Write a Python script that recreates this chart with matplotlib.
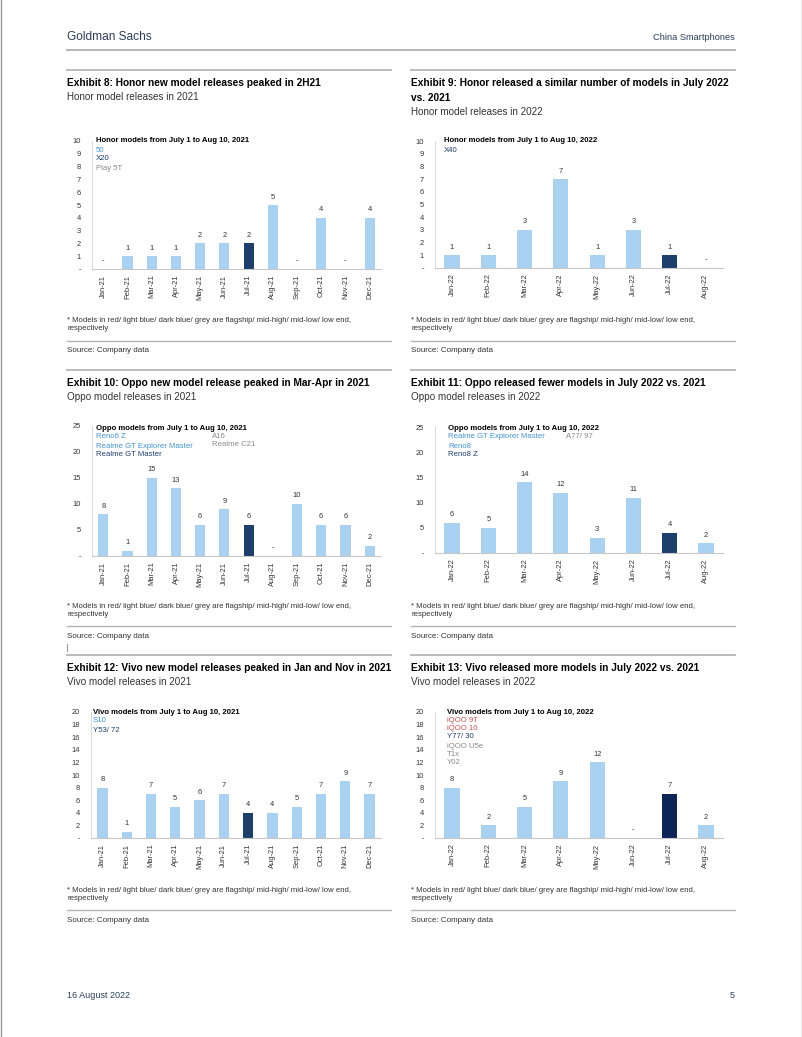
import numpy as np
import matplotlib
matplotlib.use('Agg')
import matplotlib.pyplot as plt
from matplotlib.lines import Line2D

W, H = 802, 1037
plt.rcParams['font.family'] = ['Liberation Sans', 'DejaVu Sans']

# data read from the page
months_21 = ['Jan-21', 'Feb-21', 'Mar-21', 'Apr-21', 'May-21', 'Jun-21',
             'Jul-21', 'Aug-21', 'Sep-21', 'Oct-21', 'Nov-21', 'Dec-21']
months_22 = ['Jan-22', 'Feb-22', 'Mar-22', 'Apr-22', 'May-22', 'Jun-22',
             'Jul-22', 'Aug-22']
honor_21 = [0, 1, 1, 1, 2, 2, 2, 5, 0, 4, 0, 4]
honor_22 = [1, 1, 3, 7, 1, 3, 1, 0]
oppo_21 = [8, 1, 15, 13, 6, 9, 6, 0, 10, 6, 6, 2]
oppo_22 = [6, 5, 14, 12, 3, 11, 4, 2]
vivo_21 = [8, 1, 7, 5, 6, 7, 4, 4, 5, 7, 9, 7]
vivo_22 = [8, 2, 5, 9, 12, 0, 7, 2]

LIGHT = '#a9d1f1'
DARK = '#1d3f6c'
NAVY = '#0c2658'
T_LB = '#3f93d8'
T_DB = '#1e3d72'
T_GR = '#8a8a8a'
T_RD = '#cf4f4f'
GS = '#2b3e5c'

fig = plt.figure(figsize=(W / 100, H / 100), dpi=100)


def fx(x):
    return x / W


def fy(y):
    return 1 - y / H


def hline(x0, x1, y, color='#b5b5b5', lw=1.2):
    fig.add_artist(Line2D([fx(x0), fx(x1)], [fy(y), fy(y)], color=color, lw=lw))


def vline(x, y0, y1, color='#9a9a9a', lw=0.8):
    fig.add_artist(Line2D([fx(x), fx(x)], [fy(y0), fy(y1)], color=color, lw=lw))


def text(x, y, s, **kw):
    kw.setdefault('va', 'center')
    fig.text(fx(x), fy(y), s, **kw)


# page frame, header and footer
vline(0.5, 0, H, lw=1.0)
vline(801.5, 0, H, lw=1.0)
text(67, 37, 'Goldman Sachs', fontsize=8.6, color=GS)
text(735, 38, 'China Smartphones', fontsize=6.7, color=GS, ha='right')
hline(67, 735, 50, color='#b0b0b0', lw=1.3)
text(67, 996, '16 August 2022', fontsize=6.5, color=GS)
text(735, 996, '5', fontsize=6.5, color=GS, ha='right')
vline(67, 644, 651)


def exhibit(x0, x1, ytop, titles, subtitle, foot_y):
    hline(x0, x1, ytop, color='#b5b5b5', lw=1.3)
    y = ytop + 13
    for t in titles:
        text(x0, y, t, fontsize=7.3, weight='bold', color='black')
        y += 15
    text(x0, y - 1, subtitle, fontsize=7.1, color='#333333')
    text(x0, foot_y, '* Models in red/ light blue/ dark blue/ grey are flagship/ mid-high/ mid-low/ low end,',
         fontsize=5.6, color='#333333')
    text(x0, foot_y + 8, 'respectively', fontsize=5.6, color='#333333')
    hline(x0, x1, foot_y + 20, color='#b5b5b5', lw=1.0)
    text(x0, foot_y + 30, 'Source: Company data', fontsize=5.8, color='#333333')


def chart(rect, labels, values, dark_color, ymax, ystep, lines):
    left, right, top, bottom = rect
    ax = fig.add_axes([fx(left), fy(bottom), fx(right) - fx(left), (bottom - top) / H])
    x = np.arange(len(labels))
    colors = [dark_color if lab.startswith('Jul') else LIGHT for lab in labels]
    ax.bar(x, values, width=0.42, color=colors)
    for xi, v in zip(x, values):
        ax.text(xi, v + ymax * 0.035, str(v) if v else '-', ha='center', va='bottom',
                fontsize=5.4, color='#333333')
    ax.set_xlim(-0.47, len(labels) - 0.53)
    ax.set_ylim(0, ymax)
    ticks = np.arange(0, ymax + ystep / 2, ystep)
    ax.set_yticks(ticks)
    ax.set_yticklabels(['-'] + [str(int(t)) for t in ticks[1:]])
    ax.set_xticks(x)
    ax.set_xticklabels(labels, rotation=90)
    ax.tick_params(axis='both', length=0, labelsize=5.4, labelcolor='#333333')
    ax.tick_params(axis='y', pad=8)
    ax.tick_params(axis='x', pad=4)
    for s in ['top', 'right']:
        ax.spines[s].set_visible(False)
    ax.spines['left'].set_color('#d8d8d8')
    ax.spines['bottom'].set_color('#c8c8c8')
    ax.spines['left'].set_linewidth(0.7)
    ax.spines['bottom'].set_linewidth(0.8)
    for (tx, ty, s, c, bold) in lines:
        text(tx, ty, s, fontsize=5.6, color=c, weight='bold' if bold else 'normal')
    return ax


# Exhibit 8
exhibit(67, 391, 70, ['Exhibit 8: Honor new model releases peaked in 2H21'],
        'Honor model releases in 2021', 321)
chart((92, 381, 141, 269), months_21, honor_21, DARK, 10, 1,
      [(96, 141, 'Honor models from July 1 to Aug 10, 2021', 'black', True),
       (96, 150, '50', T_LB, False),
       (96, 159, 'X20', T_DB, False),
       (96, 168, 'Play 5T', T_GR, False)])

# Exhibit 9
exhibit(411, 735, 70, ['Exhibit 9: Honor released a similar number of models in July 2022', 'vs. 2021'],
        'Honor model releases in 2022', 321)
chart((435, 723, 141, 268), months_22, honor_22, DARK, 10, 1,
      [(444, 141, 'Honor models from July 1 to Aug 10, 2022', 'black', True),
       (444, 150, 'X40', T_DB, False)])

# Exhibit 10
exhibit(67, 391, 370, ['Exhibit 10: Oppo new model release peaked in Mar-Apr in 2021'],
        'Oppo model releases in 2021', 606)
chart((92, 381, 426, 556), months_21, oppo_21, DARK, 25, 5,
      [(96, 428, 'Oppo models from July 1 to Aug 10, 2021', 'black', True),
       (96, 437, 'Reno6 Z', T_LB, False),
       (96, 446, 'Realme GT Explorer Master', T_LB, False),
       (96, 454, 'Realme GT Master', T_DB, False),
       (212, 436, 'A16', T_GR, False),
       (212, 445, 'Realme C21', T_GR, False)])

# Exhibit 11
exhibit(411, 735, 370, ['Exhibit 11: Oppo released fewer models in July 2022 vs. 2021'],
        'Oppo model releases in 2022', 606)
chart((435, 723, 427, 553), months_22, oppo_22, DARK, 25, 5,
      [(448, 428, 'Oppo models from July 1 to Aug 10, 2022', 'black', True),
       (448, 437, 'Realme GT Explorer Master', T_LB, False),
       (448, 446, 'Reno8', T_LB, False),
       (448, 454, 'Reno8 Z', T_DB, False),
       (566, 436, 'A77/ 97', T_GR, False)])

# Exhibit 12
exhibit(67, 391, 655, ['Exhibit 12: Vivo new model releases peaked in Jan and Nov in 2021'],
        'Vivo model releases in 2021', 890)
chart((91, 381, 712, 838), months_21, vivo_21, DARK, 20, 2,
      [(93, 712, 'Vivo models from July 1 to Aug 10, 2021', 'black', True),
       (93, 721, 'S10', T_LB, False),
       (93, 730, 'Y53/ 72', T_DB, False)])

# Exhibit 13
exhibit(411, 735, 655, ['Exhibit 13: Vivo released more models in July 2022 vs. 2021'],
        'Vivo model releases in 2022', 890)
chart((435, 723, 712, 838), months_22, vivo_22, NAVY, 20, 2,
      [(447, 712, 'Vivo models from July 1 to Aug 10, 2022', 'black', True),
       (447, 720, 'iQOO 9T', T_RD, False),
       (447, 728, 'iQOO 10', T_RD, False),
       (447, 737, 'Y77/ 30', T_DB, False),
       (447, 746, 'iQOO U5e', T_GR, False),
       (447, 754, 'T1x', T_GR, False),
       (447, 763, 'Y02', T_GR, False)])

fig.savefig('out.png', dpi=100)
